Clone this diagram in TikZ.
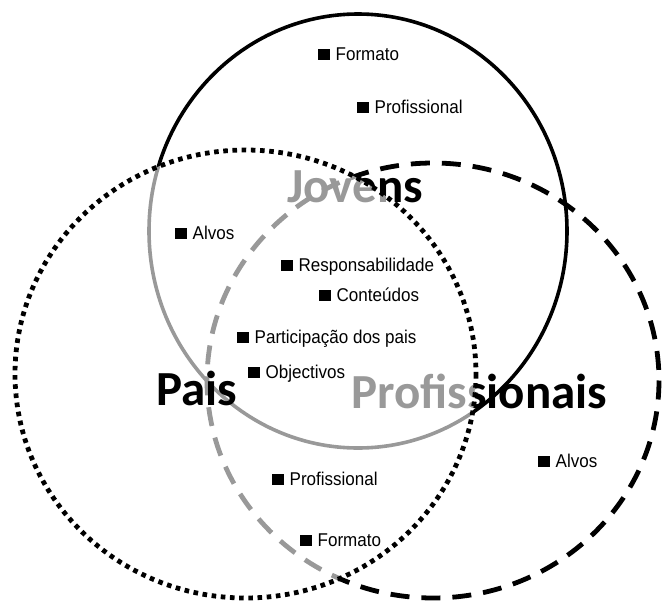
\documentclass[tikz,border=0pt]{standalone}
\usepackage{fontspec}
\setmainfont{Liberation Sans}
\newfontfamily\bigfont{Carlito}
\newfontfamily\itemfont[FakeStretch=0.92]{Liberation Sans}
\begin{document}
\begin{tikzpicture}[x=1pt,y=-1pt,
  solidring/.style={line width=3.6pt,draw=black},
  dashring/.style={line width=4.8pt,draw=black,dash pattern=on 19pt off 12pt},
  dotring/.style={line width=4.8pt,draw=black,dash pattern=on 4.6pt off 4.6pt,fill=white,fill opacity=0.6},
  biglabel/.style={anchor=base west,inner sep=0pt,font=\bigfont\bfseries\fontsize{49}{49}\selectfont},
  item/.style={anchor=base west,inner sep=0pt,font=\itemfont\fontsize{18.5}{18.5}\selectfont}]
\useasboundingbox (0,0) rectangle (662,603);
\newcommand{\bx}{\rule{12pt}{11.5pt}\hspace{5.5pt}}
% rings under the overlay
\draw[solidring] (358,231) ellipse [x radius=209, y radius=217];
\draw[dashring] (433,380.5) ellipse [x radius=226, y radius=217.5];
\node[biglabel] (jovens) at (287,202) {Jovens};
\node[biglabel] (profissionais) at (351,408) {Profissionais};
% dotted ring with semi-transparent white fill
\draw[dotring] (245.5,374) ellipse [x radius=230.5, y radius=224];
\node[biglabel] (pais) at (156,405) {Pais};
% items
\node[item] (formatoA) at (318,60) {\bx Formato};
\node[item] (profA) at (357,113) {\bx Profissional};
\node[item] (alvosA) at (175,239) {\bx Alvos};
\node[item] (resp) at (281,271) {\bx Responsabilidade};
\node[item] (cont) at (319,301) {\bx Conteúdos};
\node[item] (part) at (237,343) {\bx Participação dos pais};
\node[item] (obj) at (248,378) {\bx Objectivos};
\node[item] (profB) at (272,485) {\bx Profissional};
\node[item] (formatoB) at (300,546) {\bx Formato};
\node[item] (alvosB) at (538,467) {\bx Alvos};
\end{tikzpicture}
\end{document}
